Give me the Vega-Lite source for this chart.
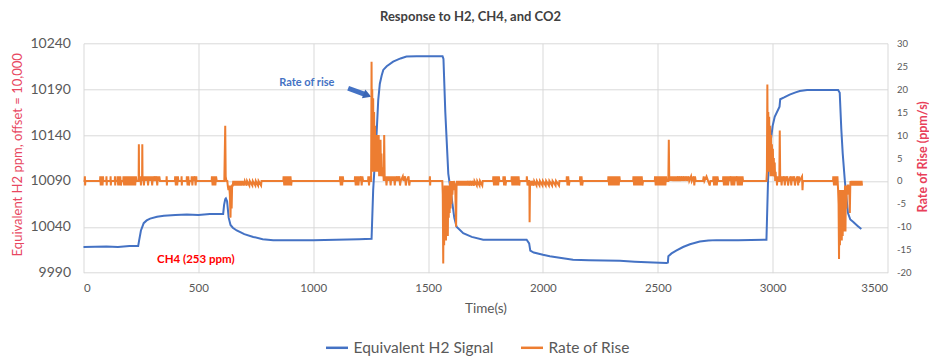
{
  "$schema": "https://vega.github.io/schema/vega-lite/v6.json",
  "width": 804,
  "height": 229.4,
  "autosize": {"type": "none"},
  "padding": {"left": 83.5, "top": 43.3, "right": 41.5, "bottom": 83.3},
  "background": "white",
  "config": {
    "view": {"stroke": null},
    "font": "Lato",
    "axis": {"gridColor": "#d9d9d9", "gridWidth": 1, "domain": false, "ticks": false, "labelColor": "#595959", "labelFont": "Lato", "titleFont": "Lato"}
  },
  "title": {"text": "Response to H2, CH4, and CO2", "fontSize": 13, "fontWeight": "bold", "color": "#404040", "font": "Lato", "anchor": "middle", "dx": -15, "offset": 12},
  "datasets": {
    "signal": [
      {"t": 0, "v": 10018}, {"t": 100, "v": 10018.5}, {"t": 150, "v": 10018}, {"t": 200, "v": 10019}, {"t": 238, "v": 10019},
      {"t": 242, "v": 10025}, {"t": 250, "v": 10036}, {"t": 256, "v": 10040}, {"t": 262, "v": 10044}, {"t": 275, "v": 10047},
      {"t": 290, "v": 10049}, {"t": 320, "v": 10051}, {"t": 350, "v": 10052}, {"t": 400, "v": 10053}, {"t": 450, "v": 10053.5},
      {"t": 500, "v": 10053}, {"t": 550, "v": 10054}, {"t": 608, "v": 10054}, {"t": 612, "v": 10064}, {"t": 617, "v": 10070},
      {"t": 620, "v": 10071}, {"t": 625, "v": 10068}, {"t": 632, "v": 10050}, {"t": 640, "v": 10042}, {"t": 650, "v": 10039},
      {"t": 667, "v": 10036}, {"t": 700, "v": 10032}, {"t": 739, "v": 10029}, {"t": 780, "v": 10026.5}, {"t": 826, "v": 10025.5},
      {"t": 900, "v": 10025.5}, {"t": 1000, "v": 10025.5}, {"t": 1100, "v": 10026}, {"t": 1200, "v": 10026.5}, {"t": 1254, "v": 10027},
      {"t": 1261, "v": 10080}, {"t": 1276, "v": 10142}, {"t": 1283, "v": 10178}, {"t": 1290, "v": 10196}, {"t": 1298, "v": 10205},
      {"t": 1305, "v": 10211}, {"t": 1320, "v": 10215}, {"t": 1348, "v": 10220}, {"t": 1380, "v": 10223.5}, {"t": 1406, "v": 10225.5},
      {"t": 1450, "v": 10226}, {"t": 1563, "v": 10226}, {"t": 1567, "v": 10223}, {"t": 1575, "v": 10165}, {"t": 1588, "v": 10098},
      {"t": 1602, "v": 10073}, {"t": 1614, "v": 10050}, {"t": 1624, "v": 10040}, {"t": 1653, "v": 10033}, {"t": 1690, "v": 10029},
      {"t": 1740, "v": 10026}, {"t": 1800, "v": 10026}, {"t": 1929, "v": 10026}, {"t": 1940, "v": 10022}, {"t": 1945, "v": 10014},
      {"t": 1960, "v": 10012}, {"t": 2000, "v": 10009.5}, {"t": 2030, "v": 10008}, {"t": 2080, "v": 10006}, {"t": 2131, "v": 10004},
      {"t": 2200, "v": 10003.5}, {"t": 2335, "v": 10003}, {"t": 2400, "v": 10002}, {"t": 2480, "v": 10001}, {"t": 2538, "v": 10000.5},
      {"t": 2544, "v": 10001}, {"t": 2546, "v": 10008}, {"t": 2560, "v": 10011}, {"t": 2580, "v": 10014}, {"t": 2610, "v": 10018},
      {"t": 2640, "v": 10021}, {"t": 2683, "v": 10024}, {"t": 2720, "v": 10025}, {"t": 2755, "v": 10025.5}, {"t": 2850, "v": 10025.5},
      {"t": 2973, "v": 10026}, {"t": 2980, "v": 10091}, {"t": 2990, "v": 10130}, {"t": 3000, "v": 10150}, {"t": 3009, "v": 10160},
      {"t": 3030, "v": 10171}, {"t": 3033, "v": 10179}, {"t": 3050, "v": 10181}, {"t": 3074, "v": 10184}, {"t": 3100, "v": 10186.5},
      {"t": 3118, "v": 10188}, {"t": 3150, "v": 10189}, {"t": 3285, "v": 10189}, {"t": 3292, "v": 10186}, {"t": 3299, "v": 10146},
      {"t": 3305, "v": 10120}, {"t": 3314, "v": 10091}, {"t": 3320, "v": 10075}, {"t": 3328, "v": 10055}, {"t": 3338, "v": 10048},
      {"t": 3350, "v": 10045.5}, {"t": 3370, "v": 10041}, {"t": 3386, "v": 10037.5}
    ],
    "rate": [
      {"t": 0, "r": 0}, {"t": 5, "r": 0}, {"t": 6, "r": 1}, {"t": 7, "r": -1}, {"t": 8, "r": 0},
      {"t": 72, "r": 0}, {"t": 73, "r": 1}, {"t": 75, "r": -1}, {"t": 77, "r": 1}, {"t": 79, "r": -1}, {"t": 81, "r": 1}, {"t": 83, "r": -1}, {"t": 85, "r": 1}, {"t": 86, "r": 0},
      {"t": 99, "r": 0}, {"t": 100, "r": 1}, {"t": 101, "r": -1}, {"t": 102, "r": 0},
      {"t": 117, "r": 0}, {"t": 118, "r": 1}, {"t": 119, "r": -1}, {"t": 120, "r": 0},
      {"t": 136, "r": 0}, {"t": 137, "r": 1}, {"t": 138, "r": -1}, {"t": 139, "r": 0},
      {"t": 147, "r": 0}, {"t": 148, "r": 1}, {"t": 151, "r": -1}, {"t": 154, "r": 1}, {"t": 157, "r": -1}, {"t": 160, "r": 1}, {"t": 163, "r": -1}, {"t": 166, "r": 0},
      {"t": 173, "r": 0}, {"t": 174, "r": 1}, {"t": 177, "r": -1}, {"t": 180, "r": 1}, {"t": 183, "r": -1}, {"t": 186, "r": 1}, {"t": 189, "r": -1}, {"t": 192, "r": 1}, {"t": 195, "r": -1}, {"t": 198, "r": 1}, {"t": 201, "r": -1}, {"t": 204, "r": 1}, {"t": 207, "r": -1}, {"t": 210, "r": 1}, {"t": 213, "r": -1}, {"t": 216, "r": 1}, {"t": 219, "r": -1}, {"t": 222, "r": 1}, {"t": 225, "r": -1}, {"t": 228, "r": 1}, {"t": 231, "r": 0},
      {"t": 240, "r": 0}, {"t": 241, "r": 8}, {"t": 242, "r": 0}, {"t": 248, "r": 1}, {"t": 250, "r": -1}, {"t": 252, "r": 1}, {"t": 255, "r": 0}, {"t": 256, "r": 8}, {"t": 257, "r": 0},
      {"t": 260, "r": 1}, {"t": 263, "r": -1}, {"t": 266, "r": 1}, {"t": 269, "r": 0}, {"t": 272, "r": 1}, {"t": 275, "r": 0}, {"t": 278, "r": 1}, {"t": 281, "r": -1}, {"t": 284, "r": 1}, {"t": 287, "r": 0}, {"t": 290, "r": 1}, {"t": 293, "r": 0}, {"t": 296, "r": 1}, {"t": 299, "r": -1}, {"t": 302, "r": 1}, {"t": 305, "r": 0}, {"t": 310, "r": 1}, {"t": 313, "r": 0}, {"t": 318, "r": 1}, {"t": 321, "r": -1}, {"t": 324, "r": 1}, {"t": 327, "r": 0}, {"t": 330, "r": 1}, {"t": 333, "r": 0},
      {"t": 361, "r": 0}, {"t": 362, "r": 1}, {"t": 363, "r": -1}, {"t": 364, "r": 0},
      {"t": 398, "r": 0}, {"t": 399, "r": 1}, {"t": 402, "r": -1}, {"t": 405, "r": 1}, {"t": 408, "r": -1}, {"t": 411, "r": 1}, {"t": 413, "r": 0},
      {"t": 426, "r": 0}, {"t": 427, "r": 1}, {"t": 428, "r": -1}, {"t": 429, "r": 0},
      {"t": 449, "r": 0}, {"t": 450, "r": 1}, {"t": 453, "r": -1}, {"t": 456, "r": 1}, {"t": 459, "r": -1}, {"t": 462, "r": 0}, {"t": 470, "r": 0}, {"t": 471, "r": 1}, {"t": 474, "r": -1}, {"t": 477, "r": 1}, {"t": 480, "r": 0}, {"t": 485, "r": 1}, {"t": 488, "r": -1}, {"t": 491, "r": 1}, {"t": 492, "r": 0},
      {"t": 558, "r": 0}, {"t": 559, "r": 1}, {"t": 562, "r": -1}, {"t": 565, "r": 1}, {"t": 568, "r": -1}, {"t": 571, "r": 1}, {"t": 574, "r": -1}, {"t": 577, "r": 1}, {"t": 580, "r": 0},
      {"t": 613, "r": 0}, {"t": 617, "r": 12}, {"t": 619, "r": 1}, {"t": 622, "r": 0}, {"t": 626, "r": 0}, {"t": 628, "r": -1}, {"t": 631, "r": -2}, {"t": 634, "r": -1}, {"t": 637, "r": -3}, {"t": 640, "r": -8}, {"t": 642, "r": -1}, {"t": 645, "r": -6}, {"t": 647, "r": -1}, {"t": 650, "r": -1}, {"t": 652, "r": 0}, {"t": 655, "r": -1}, {"t": 658, "r": 0}, {"t": 661, "r": -1}, {"t": 664, "r": 0}, {"t": 667, "r": -1}, {"t": 670, "r": 0}, {"t": 673, "r": -1}, {"t": 676, "r": 0}, {"t": 680, "r": -1}, {"t": 684, "r": 0}, {"t": 688, "r": -1}, {"t": 692, "r": 0}, {"t": 698, "r": -1}, {"t": 702, "r": 0}, {"t": 710, "r": -1}, {"t": 712, "r": 0}, {"t": 722, "r": -1}, {"t": 724, "r": 0}, {"t": 735, "r": -1}, {"t": 737, "r": 0}, {"t": 748, "r": -1}, {"t": 750, "r": 0}, {"t": 760, "r": -1}, {"t": 762, "r": 0}, {"t": 773, "r": -1}, {"t": 775, "r": 0},
      {"t": 870, "r": 0}, {"t": 871, "r": 1}, {"t": 874, "r": -1}, {"t": 877, "r": 1}, {"t": 880, "r": -1}, {"t": 883, "r": 1}, {"t": 886, "r": -1}, {"t": 889, "r": 1}, {"t": 892, "r": -1}, {"t": 895, "r": 1}, {"t": 898, "r": -1}, {"t": 901, "r": 1}, {"t": 904, "r": -1}, {"t": 906, "r": 0},
      {"t": 1116, "r": 0}, {"t": 1117, "r": 1}, {"t": 1120, "r": -1}, {"t": 1123, "r": 1}, {"t": 1126, "r": -1}, {"t": 1129, "r": 1}, {"t": 1131, "r": 0},
      {"t": 1181, "r": 0}, {"t": 1182, "r": 1}, {"t": 1185, "r": -1}, {"t": 1188, "r": 1}, {"t": 1191, "r": -1}, {"t": 1194, "r": 1}, {"t": 1197, "r": -1}, {"t": 1200, "r": 1}, {"t": 1203, "r": 0}, {"t": 1208, "r": 1}, {"t": 1211, "r": -1}, {"t": 1214, "r": 1}, {"t": 1217, "r": 0},
      {"t": 1239, "r": 0}, {"t": 1240, "r": 1}, {"t": 1243, "r": -1}, {"t": 1246, "r": 1}, {"t": 1249, "r": 0},
      {"t": 1252, "r": 0}, {"t": 1254, "r": 26}, {"t": 1256, "r": 2}, {"t": 1257, "r": 20}, {"t": 1259, "r": 3}, {"t": 1261, "r": 18}, {"t": 1263, "r": 2}, {"t": 1265, "r": 15}, {"t": 1267, "r": 3}, {"t": 1269, "r": 12}, {"t": 1271, "r": 2}, {"t": 1273, "r": 10}, {"t": 1275, "r": 3}, {"t": 1277, "r": 10}, {"t": 1279, "r": 2}, {"t": 1281, "r": 9}, {"t": 1283, "r": 2}, {"t": 1285, "r": 10}, {"t": 1287, "r": 1}, {"t": 1289, "r": 8}, {"t": 1291, "r": 2}, {"t": 1293, "r": 9}, {"t": 1295, "r": 1}, {"t": 1297, "r": 6}, {"t": 1299, "r": 1}, {"t": 1301, "r": 3}, {"t": 1303, "r": 1}, {"t": 1305, "r": 2}, {"t": 1307, "r": 0}, {"t": 1309, "r": 10}, {"t": 1311, "r": 1}, {"t": 1313, "r": 0},
      {"t": 1316, "r": 1}, {"t": 1319, "r": -1}, {"t": 1322, "r": 1}, {"t": 1325, "r": 0}, {"t": 1328, "r": 1}, {"t": 1331, "r": 0}, {"t": 1334, "r": 1}, {"t": 1337, "r": -1}, {"t": 1340, "r": 1}, {"t": 1343, "r": 0}, {"t": 1346, "r": 1}, {"t": 1349, "r": 0}, {"t": 1352, "r": 1}, {"t": 1355, "r": -1}, {"t": 1358, "r": 1}, {"t": 1361, "r": 0}, {"t": 1366, "r": 1}, {"t": 1369, "r": 0}, {"t": 1375, "r": 1}, {"t": 1378, "r": -1}, {"t": 1381, "r": 0}, {"t": 1390, "r": 1}, {"t": 1393, "r": 0}, {"t": 1400, "r": 1}, {"t": 1403, "r": -1}, {"t": 1406, "r": 0}, {"t": 1415, "r": 1}, {"t": 1418, "r": -1}, {"t": 1421, "r": 0},
      {"t": 1507, "r": 0}, {"t": 1508, "r": 1}, {"t": 1509, "r": -1}, {"t": 1510, "r": 0},
      {"t": 1562, "r": 0}, {"t": 1564, "r": -3}, {"t": 1566, "r": -18}, {"t": 1568, "r": -2}, {"t": 1570, "r": -14}, {"t": 1572, "r": -1}, {"t": 1574, "r": -10}, {"t": 1576, "r": -2}, {"t": 1578, "r": -13}, {"t": 1580, "r": -1}, {"t": 1582, "r": -9}, {"t": 1584, "r": -2}, {"t": 1586, "r": -12}, {"t": 1588, "r": -1}, {"t": 1590, "r": -8}, {"t": 1592, "r": -1}, {"t": 1594, "r": -7}, {"t": 1596, "r": 0}, {"t": 1598, "r": -6}, {"t": 1600, "r": -1}, {"t": 1602, "r": -5}, {"t": 1604, "r": 0}, {"t": 1606, "r": -3}, {"t": 1608, "r": -1}, {"t": 1610, "r": -2}, {"t": 1612, "r": 0}, {"t": 1618, "r": -1}, {"t": 1622, "r": -10}, {"t": 1624, "r": -1}, {"t": 1626, "r": 0},
      {"t": 1630, "r": -1}, {"t": 1632, "r": 0}, {"t": 1638, "r": -1}, {"t": 1640, "r": 0}, {"t": 1646, "r": -1}, {"t": 1648, "r": 0}, {"t": 1654, "r": -1}, {"t": 1656, "r": 0}, {"t": 1662, "r": -1}, {"t": 1664, "r": 0}, {"t": 1670, "r": -1}, {"t": 1672, "r": 0}, {"t": 1680, "r": -1}, {"t": 1682, "r": 0}, {"t": 1690, "r": -1}, {"t": 1692, "r": 0}, {"t": 1700, "r": -1}, {"t": 1702, "r": 0}, {"t": 1712, "r": -1}, {"t": 1714, "r": 0}, {"t": 1724, "r": -1}, {"t": 1726, "r": 0}, {"t": 1736, "r": -1}, {"t": 1738, "r": 0},
      {"t": 1783, "r": 0}, {"t": 1784, "r": 1}, {"t": 1787, "r": -1}, {"t": 1790, "r": 1}, {"t": 1793, "r": -1}, {"t": 1796, "r": 1}, {"t": 1799, "r": -1}, {"t": 1802, "r": 1}, {"t": 1805, "r": -1}, {"t": 1808, "r": 1}, {"t": 1811, "r": 0},
      {"t": 1827, "r": 0}, {"t": 1828, "r": 1}, {"t": 1831, "r": -1}, {"t": 1834, "r": 1}, {"t": 1837, "r": -1}, {"t": 1840, "r": 0},
      {"t": 1863, "r": 0}, {"t": 1864, "r": 1}, {"t": 1867, "r": -1}, {"t": 1870, "r": 1}, {"t": 1873, "r": -1}, {"t": 1876, "r": 1}, {"t": 1879, "r": -1}, {"t": 1882, "r": 1}, {"t": 1885, "r": -1}, {"t": 1888, "r": 1}, {"t": 1891, "r": -1}, {"t": 1894, "r": 1}, {"t": 1897, "r": -1}, {"t": 1899, "r": 0},
      {"t": 1929, "r": 0}, {"t": 1930, "r": 1}, {"t": 1933, "r": -1}, {"t": 1936, "r": 0}, {"t": 1941, "r": 0}, {"t": 1942, "r": -9}, {"t": 1944, "r": 0}, {"t": 1950, "r": -1}, {"t": 1952, "r": 0}, {"t": 1960, "r": -1}, {"t": 1962, "r": 0}, {"t": 1972, "r": -1}, {"t": 1974, "r": 0}, {"t": 1985, "r": -1}, {"t": 1987, "r": 0}, {"t": 1998, "r": -1}, {"t": 2000, "r": 0}, {"t": 2012, "r": -1}, {"t": 2014, "r": 0}, {"t": 2026, "r": -1}, {"t": 2028, "r": 0}, {"t": 2040, "r": -1}, {"t": 2042, "r": 0}, {"t": 2055, "r": -1}, {"t": 2057, "r": 0}, {"t": 2070, "r": -1}, {"t": 2072, "r": 0},
      {"t": 2103, "r": 0}, {"t": 2104, "r": 1}, {"t": 2107, "r": -1}, {"t": 2110, "r": 1}, {"t": 2113, "r": -1}, {"t": 2116, "r": 0},
      {"t": 2161, "r": 0}, {"t": 2162, "r": 1}, {"t": 2165, "r": -1}, {"t": 2168, "r": 1}, {"t": 2171, "r": -1}, {"t": 2174, "r": 0},
      {"t": 2284, "r": 0}, {"t": 2285, "r": 1}, {"t": 2288, "r": -1}, {"t": 2291, "r": 1}, {"t": 2294, "r": -1}, {"t": 2297, "r": 1}, {"t": 2300, "r": -1}, {"t": 2303, "r": 1}, {"t": 2306, "r": -1}, {"t": 2309, "r": 1}, {"t": 2312, "r": -1}, {"t": 2315, "r": 1}, {"t": 2318, "r": -1}, {"t": 2321, "r": 1}, {"t": 2324, "r": -1}, {"t": 2327, "r": 1}, {"t": 2330, "r": -1}, {"t": 2333, "r": 1}, {"t": 2335, "r": 0},
      {"t": 2393, "r": 0}, {"t": 2394, "r": 1}, {"t": 2397, "r": -1}, {"t": 2400, "r": 1}, {"t": 2403, "r": -1}, {"t": 2406, "r": 1}, {"t": 2409, "r": -1}, {"t": 2412, "r": 1}, {"t": 2415, "r": -1}, {"t": 2418, "r": 1}, {"t": 2421, "r": -1}, {"t": 2424, "r": 1}, {"t": 2427, "r": -1}, {"t": 2430, "r": 1}, {"t": 2433, "r": -1}, {"t": 2436, "r": 0},
      {"t": 2487, "r": 0}, {"t": 2488, "r": 1}, {"t": 2491, "r": -1}, {"t": 2494, "r": 1}, {"t": 2497, "r": -1}, {"t": 2500, "r": 1}, {"t": 2503, "r": -1}, {"t": 2506, "r": 1}, {"t": 2509, "r": -1}, {"t": 2512, "r": 1}, {"t": 2515, "r": -1}, {"t": 2518, "r": 1}, {"t": 2521, "r": -1}, {"t": 2524, "r": 1}, {"t": 2527, "r": -1}, {"t": 2530, "r": 1}, {"t": 2533, "r": -1}, {"t": 2536, "r": 1}, {"t": 2538, "r": 0},
      {"t": 2546, "r": 0}, {"t": 2548, "r": 9}, {"t": 2550, "r": 0}, {"t": 2553, "r": 1}, {"t": 2556, "r": 0}, {"t": 2559, "r": 1}, {"t": 2562, "r": 0}, {"t": 2566, "r": 1}, {"t": 2569, "r": 0}, {"t": 2573, "r": 1}, {"t": 2576, "r": 0}, {"t": 2580, "r": 1}, {"t": 2583, "r": 0}, {"t": 2588, "r": 1}, {"t": 2591, "r": 0}, {"t": 2596, "r": 1}, {"t": 2599, "r": 0}, {"t": 2605, "r": 1}, {"t": 2608, "r": 0}, {"t": 2614, "r": 1}, {"t": 2617, "r": 0}, {"t": 2624, "r": 1}, {"t": 2627, "r": 0}, {"t": 2634, "r": 1}, {"t": 2637, "r": 0}, {"t": 2645, "r": 1}, {"t": 2648, "r": 0}, {"t": 2656, "r": 1}, {"t": 2659, "r": -1}, {"t": 2662, "r": 1}, {"t": 2665, "r": 0},
      {"t": 2697, "r": 0}, {"t": 2700, "r": 1}, {"t": 2703, "r": 0}, {"t": 2712, "r": 1}, {"t": 2726, "r": -1}, {"t": 2729, "r": 0},
      {"t": 2741, "r": 0}, {"t": 2742, "r": 1}, {"t": 2745, "r": -1}, {"t": 2748, "r": 1}, {"t": 2751, "r": -1}, {"t": 2754, "r": 1}, {"t": 2757, "r": -1}, {"t": 2760, "r": 1}, {"t": 2763, "r": 0},
      {"t": 2784, "r": 0}, {"t": 2785, "r": 1}, {"t": 2788, "r": -1}, {"t": 2791, "r": 1}, {"t": 2794, "r": -1}, {"t": 2797, "r": 1}, {"t": 2800, "r": -1}, {"t": 2803, "r": 1}, {"t": 2806, "r": -1}, {"t": 2809, "r": 1}, {"t": 2812, "r": 0}, {"t": 2818, "r": 1}, {"t": 2821, "r": -1}, {"t": 2824, "r": 1}, {"t": 2827, "r": -1}, {"t": 2830, "r": 1}, {"t": 2833, "r": -1}, {"t": 2836, "r": 1}, {"t": 2839, "r": 0}, {"t": 2845, "r": 1}, {"t": 2848, "r": -1}, {"t": 2851, "r": 1}, {"t": 2854, "r": -1}, {"t": 2857, "r": 1}, {"t": 2860, "r": -1}, {"t": 2863, "r": 1}, {"t": 2866, "r": -1}, {"t": 2869, "r": 1}, {"t": 2871, "r": 0},
      {"t": 2973, "r": 0}, {"t": 2975, "r": 2}, {"t": 2977, "r": 21}, {"t": 2979, "r": 3}, {"t": 2981, "r": 15}, {"t": 2983, "r": 2}, {"t": 2985, "r": 14}, {"t": 2987, "r": 3}, {"t": 2989, "r": 12}, {"t": 2991, "r": 1}, {"t": 2993, "r": 10}, {"t": 2995, "r": 2}, {"t": 2997, "r": 8}, {"t": 2999, "r": 1}, {"t": 3001, "r": 7}, {"t": 3003, "r": 2}, {"t": 3005, "r": 5}, {"t": 3007, "r": 1}, {"t": 3009, "r": 4}, {"t": 3011, "r": 0}, {"t": 3013, "r": 2}, {"t": 3015, "r": 0}, {"t": 3017, "r": 1}, {"t": 3019, "r": -1}, {"t": 3021, "r": 1}, {"t": 3023, "r": 0}, {"t": 3029, "r": 0}, {"t": 3031, "r": 11}, {"t": 3033, "r": 0},
      {"t": 3036, "r": 1}, {"t": 3039, "r": -1}, {"t": 3042, "r": 1}, {"t": 3045, "r": 0}, {"t": 3050, "r": 1}, {"t": 3053, "r": -1}, {"t": 3056, "r": 1}, {"t": 3059, "r": 0}, {"t": 3064, "r": 1}, {"t": 3067, "r": -1}, {"t": 3070, "r": 0}, {"t": 3078, "r": 1}, {"t": 3081, "r": -1}, {"t": 3084, "r": 1}, {"t": 3087, "r": 0}, {"t": 3094, "r": 1}, {"t": 3097, "r": -1}, {"t": 3100, "r": 0}, {"t": 3108, "r": 1}, {"t": 3111, "r": -1}, {"t": 3114, "r": 1}, {"t": 3117, "r": 0}, {"t": 3128, "r": 1}, {"t": 3130, "r": -2}, {"t": 3132, "r": 0},
      {"t": 3263, "r": 0}, {"t": 3264, "r": 1}, {"t": 3267, "r": -1}, {"t": 3270, "r": 1}, {"t": 3273, "r": -1}, {"t": 3276, "r": 1}, {"t": 3279, "r": -1}, {"t": 3282, "r": 1}, {"t": 3285, "r": -2}, {"t": 3287, "r": -5}, {"t": 3289, "r": -17}, {"t": 3291, "r": -2}, {"t": 3293, "r": -14}, {"t": 3295, "r": -3}, {"t": 3297, "r": -9}, {"t": 3299, "r": -2}, {"t": 3301, "r": -13}, {"t": 3303, "r": -2}, {"t": 3305, "r": -12}, {"t": 3307, "r": -2}, {"t": 3309, "r": -11}, {"t": 3311, "r": -2}, {"t": 3313, "r": -10}, {"t": 3315, "r": -1}, {"t": 3317, "r": -11}, {"t": 3319, "r": -1}, {"t": 3321, "r": -6}, {"t": 3323, "r": -1}, {"t": 3325, "r": -3}, {"t": 3327, "r": -1}, {"t": 3329, "r": -1}, {"t": 3331, "r": -2}, {"t": 3333, "r": -1}, {"t": 3336, "r": -7}, {"t": 3338, "r": -1}, {"t": 3339, "r": 0}, {"t": 3341, "r": -1}, {"t": 3343, "r": 0}, {"t": 3345, "r": -1}, {"t": 3347, "r": 0}, {"t": 3349, "r": -1}, {"t": 3351, "r": 0}, {"t": 3353, "r": -1}, {"t": 3355, "r": 0}, {"t": 3357, "r": -1}, {"t": 3359, "r": 0}, {"t": 3361, "r": -1}, {"t": 3363, "r": 0}, {"t": 3365, "r": -1}, {"t": 3367, "r": 0}, {"t": 3369, "r": -1}, {"t": 3371, "r": 0}, {"t": 3373, "r": -1}, {"t": 3375, "r": 0}, {"t": 3377, "r": -1}, {"t": 3379, "r": 0}, {"t": 3381, "r": -1}, {"t": 3383, "r": 0}, {"t": 3385, "r": -1}, {"t": 3387, "r": 0}, {"t": 3389, "r": -1}
    ]
  },
  "layer": [
    {
      "layer": [
        {
          "data": {"name": "signal"},
          "mark": {"type": "line", "strokeWidth": 2, "interpolate": "linear"},
          "encoding": {
            "x": {"field": "t", "type": "quantitative", "scale": {"domain": [0, 3500], "nice": false},
                  "axis": {"values": [0, 500, 1000, 1500, 2000, 2500, 3000, 3500], "labelExpr": "'' + datum.value", "grid": true, "labelFontSize": 11.5, "labelPadding": 10, "title": "Time(s)", "titleFontSize": 13.5, "titleFontWeight": "normal", "titleColor": "#595959", "titlePadding": 7}},
            "y": {"field": "v", "type": "quantitative", "scale": {"domain": [9990, 10240], "zero": false, "nice": false},
                  "axis": {"orient": "left", "values": [9990, 10040, 10090, 10140, 10190, 10240], "labelExpr": "'' + datum.value", "grid": true, "labelFontSize": 14, "labelPadding": 13, "title": "Equivalent H2 ppm, offset = 10,000", "titleFontSize": 13, "titleFontWeight": "normal", "titleColor": "#E8475F", "titleAngle": -90, "titleX": -66.5, "titleY": 111, "titleAlign": "center", "titleBaseline": "middle"}},
            "color": {"datum": "Equivalent H2 Signal", "type": "nominal",
                      "scale": {"domain": ["Equivalent H2 Signal", "Rate of Rise"], "range": ["#4472C4", "#ED7D31"]},
                      "legend": {"orient": "none", "legendX": 241, "legendY": 292, "direction": "horizontal", "title": null, "symbolType": "stroke", "symbolSize": 484, "symbolStrokeWidth": 2.5, "labelFontSize": 15.5, "labelColor": "#595959", "labelFont": "Lato", "labelOffset": 4, "columnPadding": 21, "padding": 0}}
          }
        },
        {
          "data": {"values": [{}]},
          "mark": {"type": "text", "fontSize": 11, "fontWeight": "bold", "color": "#4472C4", "font": "Lato", "align": "center", "baseline": "middle"},
          "encoding": {"x": {"datum": 972}, "y": {"datum": 10197}, "text": {"value": "Rate of rise"}}
        },
        {
          "data": {"values": [{}]},
          "mark": {"type": "text", "fontSize": 11.5, "fontWeight": "bold", "color": "#FF0000", "font": "Lato", "align": "center", "baseline": "middle"},
          "encoding": {"x": {"datum": 489}, "y": {"datum": 10004}, "text": {"value": "CH4 (253 ppm)"}}
        },
        {
          "data": {"values": [{}]},
          "mark": {"type": "rule", "strokeWidth": 5, "color": "#4472C4"},
          "encoding": {"x": {"datum": 1152}, "y": {"datum": 10191}, "x2": {"datum": 1228}, "y2": {"datum": 10184}}
        },
        {
          "data": {"values": [{}]},
          "mark": {"type": "point", "shape": "triangle-right", "filled": true, "size": 90, "angle": 21, "color": "#3A66B5", "opacity": 1},
          "encoding": {"x": {"datum": 1236}, "y": {"datum": 10183.3}}
        }
      ]
    },
    {
      "data": {"name": "rate"},
      "mark": {"type": "line", "strokeWidth": 2, "interpolate": "linear"},
      "encoding": {
        "x": {"field": "t", "type": "quantitative"},
        "y": {"field": "r", "type": "quantitative", "scale": {"domain": [-20, 30], "zero": false, "nice": false},
              "axis": {"orient": "right", "values": [-20, -15, -10, -5, 0, 5, 10, 15, 20, 25, 30], "labelExpr": "'' + datum.value", "grid": false, "labelFontSize": 9.5, "labelPadding": 9, "title": "Rate of Rise (ppm/s)", "titleFontSize": 12.5, "titleFontWeight": "bold", "titleColor": "#E8405A", "titleAngle": -90, "titleX": 35, "titleY": 113, "titleAlign": "center", "titleBaseline": "middle"}},
        "color": {"datum": "Rate of Rise", "type": "nominal"}
      }
    }
  ],
  "resolve": {"scale": {"y": "independent"}}
}
